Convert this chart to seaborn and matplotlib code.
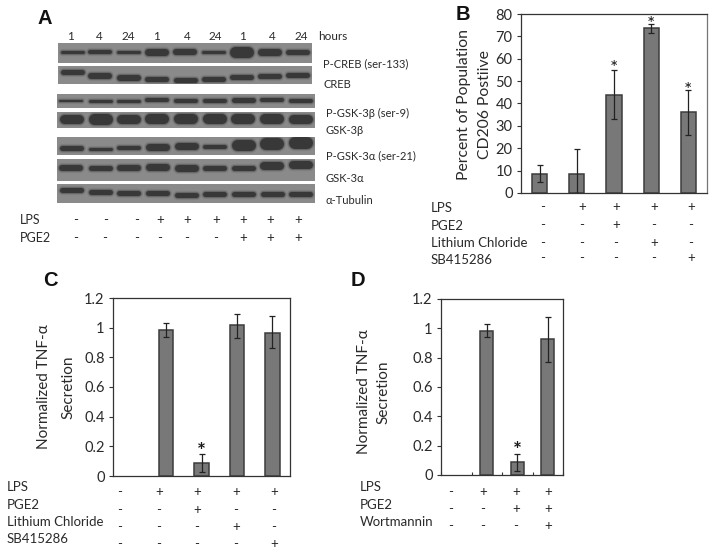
# Western blot panel plus three bar panels
import pandas as pd
import matplotlib
matplotlib.use("Agg")
import matplotlib.pyplot as plt
import seaborn as sns

sns.set_theme(style="white")
plt.rcParams['font.family'] = ['Lato', 'DejaVu Sans']

W, H = 714, 552
TEXT = '#2a2a2a'
BAR = '#787878'
EDGE = '#3c3c3c'

# Panel A: lanes and band readings (thickness and vertical centre, px inside each blot)
hours = ['1', '4', '24', '1', '4', '24', '1', '4', '24']
blot_names = ['P-CREB (ser-133)', 'CREB', 'P-GSK-3β (ser-9)', 'GSK-3β',
              'P-GSK-3α (ser-21)', 'GSK-3α', 'α-Tubulin']
pcreb_thick = [3, 4, 3, 7, 6, 3, 11, 7, 5]
pcreb_mid = [9, 9, 9, 9, 9, 9, 9, 9, 9]
creb_thick = [5, 6, 6, 5, 5, 5, 5, 5, 5]
creb_mid = [6, 10, 12, 13, 13.5, 13, 11, 10, 9]
pgsk3b_thick = [2, 3, 3, 4, 4, 4, 5, 4, 4]
pgsk3b_mid = [6.5, 6.5, 6.5, 6, 6.5, 6.5, 6, 6, 6.5]
gsk3b_thick = [9, 11, 9, 10, 10, 10, 10, 10, 9]
gsk3b_mid = [7, 7, 7, 7, 7, 7, 7, 7, 7]
pgsk3a_thick = [5, 3, 4, 7, 7, 4, 11, 12, 12]
pgsk3a_mid = [11, 12, 11, 10, 9, 10, 8, 7, 6]
gsk3a_thick = [6, 5, 6, 7, 7, 5, 5, 8, 8]
gsk3a_mid = [9, 9, 9, 8, 9, 9, 9, 7, 6]
tubulin_thick = [5, 5, 5, 5, 5, 5, 5, 5, 5]
tubulin_mid = [6, 8, 9.5, 9.5, 11, 10.5, 10, 10.5, 10]

a_lps = ['-', '-', '-', '+', '+', '+', '+', '+', '+']
a_pge2 = ['-', '-', '-', '-', '-', '-', '+', '+', '+']

# Panel B
b_vals = [8.7, 8.7, 44, 73.7, 36]
b_low = [5, 0, 33, 71.5, 26]
b_high = [12.5, 19.5, 55, 75.5, 46]
b_rows = {'LPS': ['-', '+', '+', '+', '+'],
          'PGE2': ['-', '-', '+', '-', '-'],
          'Lithium Chloride': ['-', '-', '-', '+', '-'],
          'SB415286': ['-', '-', '-', '-', '+']}

# Panel C
c_vals = [0, 0.985, 0.09, 1.015, 0.965]
c_low = [0, 0.94, 0.03, 0.93, 0.86]
c_high = [0, 1.03, 0.145, 1.095, 1.08]
c_rows = {'LPS': ['-', '+', '+', '+', '+'],
          'PGE2': ['-', '-', '+', '-', '-'],
          'Lithium Chloride': ['-', '-', '-', '+', '-'],
          'SB415286': ['-', '-', '-', '-', '+']}

# Panel D
d_vals = [0, 0.985, 0.09, 0.925]
d_low = [0, 0.94, 0.03, 0.77]
d_high = [0, 1.03, 0.145, 1.08]
d_rows = {'LPS': ['-', '+', '+', '+'],
          'PGE2': ['-', '-', '+', '+'],
          'Wortmannin': ['-', '-', '-', '+']}


def px_axes(fig, x0, y0, x1, y1):
    return fig.add_axes([x0 / W, 1 - y1 / H, (x1 - x0) / W, (y1 - y0) / H])


fig = plt.figure(figsize=(W / 100, H / 100), dpi=100, facecolor='white')

# overlay in pixel coordinates for the labels
over = fig.add_axes([0, 0, 1, 1], zorder=5)
over.set_xlim(0, W)
over.set_ylim(H, 0)
over.axis('off')
over.patch.set_alpha(0)


def label(x, y, s, size=8, ha='left', **kw):
    over.text(x, y, s, fontsize=size, ha=ha, va='center', color=TEXT, **kw)


# Panel A blots
blot_boxes = [(58, 43, 312, 63), (58, 66, 312, 84), (57, 94, 315, 108), (57, 112, 315, 128),
              (57, 137, 315, 155), (57, 159, 315, 181), (57, 184, 315, 203)]
blot_bands = [(pcreb_thick, pcreb_mid), (creb_thick, creb_mid), (pgsk3b_thick, pgsk3b_mid),
              (gsk3b_thick, gsk3b_mid), (pgsk3a_thick, pgsk3a_mid), (gsk3a_thick, gsk3a_mid),
              (tubulin_thick, tubulin_mid)]
blot_label_y = [64, 84, 113, 131, 156, 178, 200]
blot_label_x = [323, 324, 326, 326, 326, 326, 326]

for box, (thick, mid), name, ly, lx in zip(blot_boxes, blot_bands, blot_names, blot_label_y, blot_label_x):
    ax = px_axes(fig, *box)
    ax.set_facecolor('#8a8a8a')
    ax.set_xlim(-0.5, 8.5)
    ax.set_ylim(box[3] - box[1], 0)
    ax.set_xticks([])
    ax.set_yticks([])
    for sp in ax.spines.values():
        sp.set_visible(False)
    lane_w = (box[2] - box[0]) / 9
    for i, (t, m) in enumerate(zip(thick, mid)):
        # band width stays near 24 px whatever its thickness, soft halo under the core
        half = max(24 - t, 6) / 2 / lane_w
        ax.plot([i - half, i + half], [m, m], lw=t * 0.72 + 3, color='#555555', alpha=0.22,
                solid_capstyle='round')
        ax.plot([i - half, i + half], [m, m], lw=t * 0.72 + 1.4, color='#444444', alpha=0.4,
                solid_capstyle='round')
        ax.plot([i - half, i + half], [m, m], lw=t * 0.72, color='#383838', solid_capstyle='round')
    label(lx, ly, name, size=8)

lane_x = [70, 99, 128, 157, 187, 215, 243, 272, 301]
for x, h in zip(lane_x, hours):
    label(x, 36, h, ha='center', size=8.5)
label(318, 36, 'hours', size=8.5)
label(20, 220, 'LPS', size=9)
label(20, 238, 'PGE2', size=9)
for x, s in zip([76, 106, 137, 160, 187, 216, 243, 270, 298], a_lps):
    label(x, 220, s, size=9.5, ha='center')
for x, s in zip([76, 105, 137, 160, 187, 216, 243, 270, 298], a_pge2):
    label(x, 238, s, size=9.5, ha='center')


def bar_panel(box, vals, low, high, ylim, yticks, ylabels, stars, star_size, xticks=False, right='#333333', star_weight='normal'):
    ax = px_axes(fig, *box)
    ax.set_facecolor('none')
    df = pd.DataFrame({'group': range(len(vals)), 'value': vals})
    sns.barplot(data=df, x='group', y='value', color=BAR, width=0.41, saturation=1,
                edgecolor=EDGE, linewidth=1.1, errorbar=None, ax=ax)
    # a zero bar would still draw its outline as a stub on the axis
    for patch, v in zip(ax.patches, vals):
        patch.set_visible(v > 0)
    for i, (v, lo, hi) in enumerate(zip(vals, low, high)):
        if v > 0:
            ax.errorbar(i, v, yerr=[[v - lo], [hi - v]], color='#222222', lw=0.9,
                        capsize=2.4, capthick=0.9)
    ax.set_xlim(-0.5, len(vals) - 0.5)
    ax.set_ylim(*ylim)
    ax.set_yticks(yticks)
    ax.set_yticklabels(ylabels, fontsize=10.5, color=TEXT)
    if xticks:
        ax.set_xticks([i - 0.5 for i in range(len(vals) + 1)])
    else:
        ax.set_xticks([])
    ax.set_xticklabels([])
    ax.set_xlabel('')
    ax.set_ylabel('')
    ax.tick_params(axis='y', direction='out', length=3, width=0.8, color='#333333', left=True, pad=3)
    ax.tick_params(axis='x', direction='in', length=2.5, width=0.8, color='#333333', bottom=True)
    for sp in ax.spines.values():
        sp.set_color('#333333')
        sp.set_linewidth(0.9)
    ax.spines['right'].set_color(right)
    for i, y in stars:
        ax.text(i, y, '*', fontsize=star_size, fontweight=star_weight, ha='center', va='center',
                color='#1a1a1a', clip_on=False)
    return ax


def sign_rows(rows, label_x, label_ys, col_x, sign_ys):
    for (name, signs), ly, sy in zip(rows.items(), label_ys, sign_ys):
        label(label_x, ly, name, size=9.5)
        for x, s in zip(col_x, signs):
            label(x, sy, s, size=9.5, ha='center')


# Panel B
bar_panel((521, 14, 707, 193), b_vals, b_low, b_high, (0, 80), list(range(0, 81, 10)),
          [str(v) for v in range(0, 81, 10)], [(2, 55.5), (3, 75.5), (4, 46)], 14, right='#777777')
over.text(464, 105, 'Percent of Population', fontsize=11.3, rotation=90, ha='center', va='center', color=TEXT)
over.text(485, 105, 'CD206 Postiive', fontsize=11.3, rotation=90, ha='center', va='center', color=TEXT)
sign_rows(b_rows, 431, [208, 226, 243, 260], [543, 582, 616, 654, 691], [207, 225, 243, 258])

# Panel C and D share the same scale
tnf_ticks = [0, 0.2, 0.4, 0.6, 0.8, 1, 1.2]
tnf_labels = ['0', '0.2', '0.4', '0.6', '0.8', '1', '1.2']
bar_panel((113, 298, 290, 476), c_vals, c_low, c_high, (0, 1.2), tnf_ticks, tnf_labels,
          [(2, 0.165)], 15, star_weight='bold')
over.text(44, 387, 'Normalized TNF-α', fontsize=11, rotation=90, ha='center', va='center', color=TEXT)
over.text(68, 387, 'Secretion', fontsize=11, rotation=90, ha='center', va='center', color=TEXT)
sign_rows(c_rows, 7, [487, 505, 522, 539], [120, 159, 197, 236, 274], [492, 510, 527, 544])

bar_panel((441, 299, 563, 475), d_vals, d_low, d_high, (0, 1.2), tnf_ticks, tnf_labels,
          [(2, 0.165)], 15, xticks=True, star_weight='bold')
over.text(364, 392, 'Normalized TNF-α', fontsize=11, rotation=90, ha='center', va='center', color=TEXT)
over.text(383, 392, 'Secretion', fontsize=11, rotation=90, ha='center', va='center', color=TEXT)
sign_rows(d_rows, 360, [487, 505, 522], [451, 483, 516, 548], [492, 509, 526])

# Panel letters
for s, x, y in [('A', 38, 19), ('B', 456, 15), ('C', 43, 280), ('D', 351, 281)]:
    over.text(x, y, s, fontsize=14.5, fontweight='bold', family='Liberation Sans', va='center', color='#111111')

fig.savefig('out.png', dpi=100)
